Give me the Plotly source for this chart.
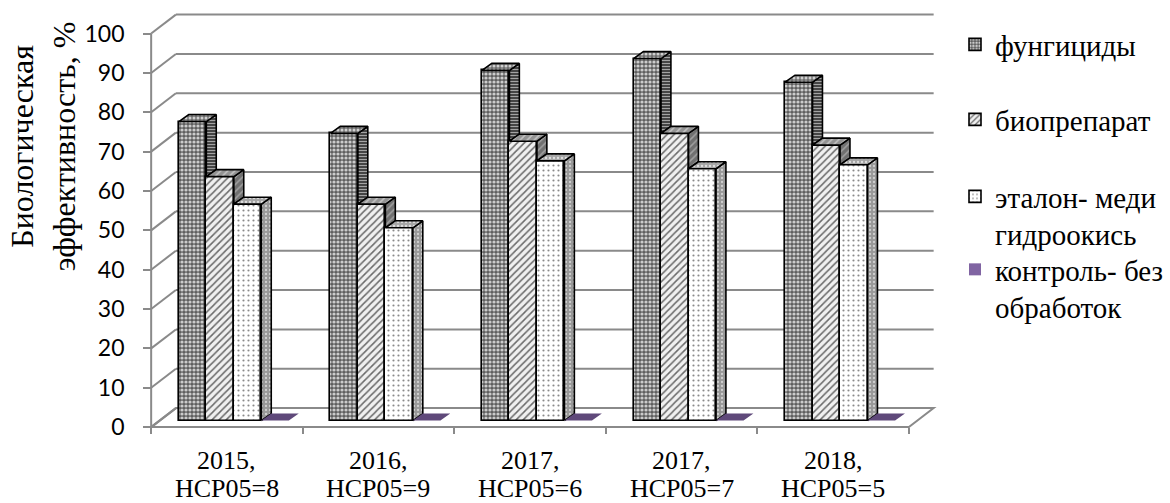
import plotly.graph_objects as go

# ---------------- data ----------------
years = ["2015,", "2016,", "2017,", "2017,", "2018,"]
lsd_labels = ["НСР05=8", "НСР05=9", "НСР05=6", "НСР05=7", "НСР05=5"]
fungicides = [76, 73, 89, 92, 86]
biopreparat = [62, 55, 71, 73, 70]
etalon = [55, 49, 66, 64, 65]
control = [0, 0, 0, 0, 0]
series_names = ["фунгициды", "биопрепарат", "эталон- меди<br>гидроокись", "контроль- без<br>обработок"]
y_ticks = [0, 10, 20, 30, 40, 50, 60, 70, 80, 90, 100]
y_title = "Биологическая<br>эффективность, %"

# ---------------- geometry (pixels) ----------------
W, H = 1170, 503
X_ORIGIN, Y_ORIGIN = 151, 427.5          # front corner of the category / value axes
PX_PER_CAT, PX_PER_PCT = 153.2, 3.94
WALL_DX, WALL_DY = 25, 19                # oblique depth of the back wall
BAR_W_PX = 27.8
BAR_FRONT_DX, BAR_FRONT_DY = 7, 6.5      # bar front plane offset from axis plane
BAR_DEPTH_DX, BAR_DEPTH_DY = 10, 7       # bar depth (top/side faces)

X_MIN, X_MAX = -0.1, 5.25
Y_MIN, Y_MAX = -1.5, 106.5

L = X_ORIGIN + X_MIN * PX_PER_CAT
R = W - (X_ORIGIN + X_MAX * PX_PER_CAT)
T = Y_ORIGIN - Y_MAX * PX_PER_PCT
B = H - (Y_ORIGIN - Y_MIN * PX_PER_PCT)
PW, PH = W - L - R, H - T - B


def px_x(px):
    return (px - L) / PW


def px_y(py):
    return (H - B - py) / PH


def ux(px):
    return px / PX_PER_CAT


def uy(px):
    return px / PX_PER_PCT


wx, wy = ux(WALL_DX), uy(WALL_DY)
bw = ux(BAR_W_PX)
fdx, fdy = ux(BAR_FRONT_DX), uy(BAR_FRONT_DY)
ddx, ddy = ux(BAR_DEPTH_DX), uy(BAR_DEPTH_DY)
n_cat = len(years)

GRID = "#8a8a8a"
SERIF = "Liberation Serif"

# face styles: (front, top, side)
styles = [
    dict(front=dict(shape=".", bgcolor="#5e5e5e", fgcolor="#cccccc", size=4, solidity=0.5),
         top=dict(shape=".", bgcolor="#6e6e6e", fgcolor="#d0d0d0", size=4, solidity=0.45),
         side=dict(shape="-", bgcolor="#3a3a3a", fgcolor="#a4a4a4", size=3, solidity=0.4)),
    dict(front=dict(shape="/", bgcolor="#f0f0f0", fgcolor="#6a6a6a", size=5, solidity=0.3),
         top=dict(shape="/", bgcolor="#939393", fgcolor="#c4c4c4", size=5, solidity=0.3),
         side=dict(shape="/", bgcolor="#707070", fgcolor="#a0a0a0", size=5, solidity=0.3)),
    dict(front=dict(shape=".", bgcolor="#ffffff", fgcolor="#8a8a8a", size=5, solidity=0.15),
         top=dict(shape=".", bgcolor="#a6a6a6", fgcolor="#e0e0e0", size=4, solidity=0.25),
         side=dict(shape=".", bgcolor="#989898", fgcolor="#d0d0d0", size=4, solidity=0.25)),
    None,
]
CONTROL_LEGEND = "#8064a2"
CONTROL_TOP = "#5f497a"

all_series = [fungicides, biopreparat, etalon, control]

fig = go.Figure()

# front faces of the columns
for s, (vals, name) in enumerate(zip(all_series, series_names)):
    xs = [c + 0.5 + (s - 1.5) * bw + fdx for c in range(n_cat)]
    st = styles[s]
    if st is not None:
        marker = dict(color=st["front"]["bgcolor"],
                      pattern=dict(fillmode="replace", **st["front"]),
                      line=dict(color="black", width=1.6))
    else:
        marker = dict(color=CONTROL_LEGEND, line=dict(width=0))
    fig.add_trace(go.Bar(
        x=xs, y=vals, base=[fdy] * n_cat, width=bw, name=name,
        marker=marker, legend="legend" if s == 0 else f"legend{s + 1}",
        hoverinfo="skip",
    ))

# top and right-side faces, computed from the same values
for s, vals in enumerate(all_series):
    st = styles[s]
    nxt = all_series[s + 1] if s + 1 < len(all_series) else [0] * n_cat
    tx, ty, sx, sy = [], [], [], []
    for c, v in enumerate(vals):
        x0 = c + 0.5 + (s - 1.5) * bw + fdx - bw / 2
        x1 = x0 + bw
        top = fdy + v
        tx += [x0, x1, x1 + ddx, x0 + ddx, x0, None]
        ty += [top, top, top + ddy, top + ddy, top, None]
        low = fdy + max(nxt[c], 0)
        if v > 0 and low < top:
            sx += [x1, x1, x1 + ddx, x1 + ddx, x1, None]
            sy += [low, top, top + ddy, low + ddy, low, None]
    if st is None:
        fig.add_trace(go.Scatter(x=tx, y=ty, mode="lines", fill="toself",
                                 fillcolor=CONTROL_TOP, line=dict(width=0),
                                 showlegend=False, hoverinfo="skip"))
        continue
    fig.add_trace(go.Scatter(x=sx, y=sy, mode="lines", fill="toself",
                             fillcolor=st["side"]["bgcolor"],
                             fillpattern=dict(fillmode="replace", **st["side"]),
                             line=dict(color="black", width=1.6),
                             showlegend=False, hoverinfo="skip"))
    fig.add_trace(go.Scatter(x=tx, y=ty, mode="lines", fill="toself",
                             fillcolor=st["top"]["bgcolor"],
                             fillpattern=dict(fillmode="replace", **st["top"]),
                             line=dict(color="black", width=1.6),
                             showlegend=False, hoverinfo="skip"))

# walls, floor and axis lines
shapes = []
shapes.append(dict(type="path", layer="below",
                   path=f"M 0,0 L {n_cat},0 L {n_cat + wx},{wy} L {wx},{wy} Z",
                   fillcolor="white", line=dict(color=GRID, width=2)))
for v in y_ticks:
    shapes.append(dict(type="line", layer="below", x0=wx, y0=v + wy, x1=n_cat + wx, y1=v + wy,
                       line=dict(color=GRID, width=2)))
    shapes.append(dict(type="line", layer="below", x0=0, y0=v, x1=wx, y1=v + wy,
                       line=dict(color=GRID, width=2)))
shapes.append(dict(type="line", layer="below", x0=0, y0=0, x1=0, y1=y_ticks[-1],
                   line=dict(color=GRID, width=2)))
shapes.append(dict(type="line", layer="below", x0=0, y0=0, x1=n_cat, y1=0,
                   line=dict(color=GRID, width=2)))

annotations = []
for c in range(n_cat):
    annotations.append(dict(x=c + 0.5, y=px_y(461), xref="x", yref="paper", text=years[c],
                            showarrow=False, yanchor="middle",
                            font=dict(family=SERIF, size=26, color="black")))
    annotations.append(dict(x=c + 0.5, y=px_y(489), xref="x", yref="paper", text=lsd_labels[c],
                            showarrow=False, yanchor="middle",
                            font=dict(family=SERIF, size=26, color="black")))
annotations.append(dict(x=px_x(42), y=px_y(146), xref="paper", yref="paper", text=y_title,
                        textangle=-90, showarrow=False, xanchor="center", yanchor="middle",
                        font=dict(family=SERIF, size=32, color="black")))

legend_common = dict(xref="container", yref="container", xanchor="left", yanchor="top",
                     bgcolor="rgba(0,0,0,0)", borderwidth=0, valign="top",
                     font=dict(family=SERIF, size=29, color="black"))
legend_tops = [19, 94, 171, 244]
legend_left = 955

fig.update_layout(
    width=W, height=H, autosize=False,
    margin=dict(l=L, r=R, t=T, b=B, pad=0),
    paper_bgcolor="white", plot_bgcolor="white",
    barmode="overlay", bargap=0,
    shapes=shapes, annotations=annotations,
    xaxis=dict(range=[X_MIN, X_MAX], anchor="free", position=px_y(Y_ORIGIN),
               tickvals=list(range(n_cat + 1)), showticklabels=False,
               ticks="outside", ticklen=6, tickwidth=2, tickcolor=GRID,
               showgrid=False, zeroline=False, showline=False, fixedrange=True),
    yaxis=dict(range=[Y_MIN, Y_MAX], anchor="free", position=px_x(X_ORIGIN),
               tickvals=y_ticks, ticks="outside", ticklen=8, tickwidth=2, tickcolor=GRID,
               ticklabelstandoff=14,
               tickfont=dict(family="Lato", size=23, color="black"),
               showgrid=False, zeroline=False, showline=False, fixedrange=True),
    legend=dict(x=legend_left / W, y=1 - legend_tops[0] / H, **legend_common),
    legend2=dict(x=legend_left / W, y=1 - legend_tops[1] / H, **legend_common),
    legend3=dict(x=legend_left / W, y=1 - legend_tops[2] / H, **legend_common),
    legend4=dict(x=legend_left / W, y=1 - legend_tops[3] / H, **legend_common),
    showlegend=True,
)

fig.write_html("out.html")
